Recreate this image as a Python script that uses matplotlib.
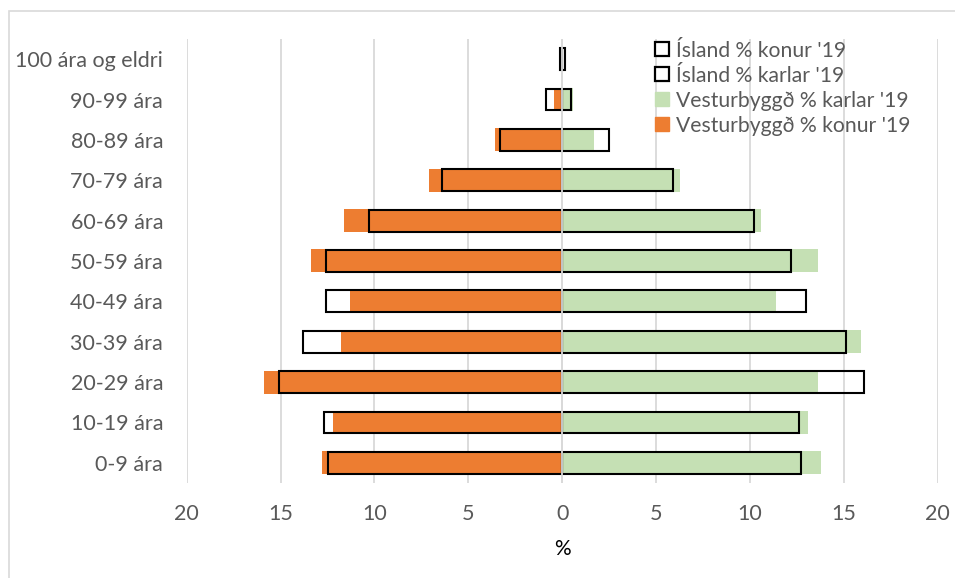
import matplotlib
matplotlib.use("Agg")
import matplotlib.pyplot as plt
from matplotlib.patches import Patch, Rectangle
import numpy as np

categories = ['0-9 ára', '10-19 ára', '20-29 ára', '30-39 ára', '40-49 ára',
              '50-59 ára', '60-69 ára', '70-79 ára', '80-89 ára', '90-99 ára',
              '100 ára og eldri']
vest_konur = [12.8, 12.2, 15.9, 11.8, 11.3, 13.4, 11.6, 7.1, 3.6, 0.45, 0.0]
vest_karlar = [13.8, 13.1, 13.6, 15.9, 11.4, 13.6, 10.6, 6.3, 1.7, 0.6, 0.0]
isl_konur = [12.5, 12.7, 15.1, 13.8, 12.6, 12.6, 10.3, 6.4, 3.3, 0.85, 0.13]
isl_karlar = [12.7, 12.6, 16.1, 15.1, 13.0, 12.2, 10.2, 5.9, 2.5, 0.45, 0.13]
xticks = [-20, -15, -10, -5, 0, 5, 10, 15, 20]

plt.rcParams['font.family'] = ['Lato', 'DejaVu Sans']
TXT = '#595959'
GREEN = '#C5E0B4'
ORANGE = '#ED7D31'
GRID = '#D9D9D9'

fig = plt.figure(figsize=(9.55, 5.78), dpi=100)
ax = fig.add_axes([0.1955, 0.1644, 0.7864, 0.7681])

y = np.arange(len(categories))
h = 0.57
ax.barh(y, -np.array(vest_konur), height=h, color=ORANGE, zorder=2)
ax.barh(y, vest_karlar, height=h, color=GREEN, zorder=2)
ax.barh(y, -np.array(isl_konur), height=h * 0.95, facecolor='none',
        edgecolor='black', linewidth=1.5, zorder=3)
ax.barh(y, isl_karlar, height=h * 0.95, facecolor='none',
        edgecolor='black', linewidth=1.5, zorder=3)
ax.axvline(0, color=GRID, linewidth=1.3, zorder=4)

ax.set_xlim(-20, 20)
ax.set_ylim(-0.5, len(categories) - 0.5)
ax.set_xticks(xticks)
ax.set_xticklabels([str(abs(t)) for t in xticks])
ax.set_yticks(y)
ax.set_yticklabels(categories)
ax.xaxis.grid(True, color=GRID, linewidth=1.3, zorder=0)
ax.set_axisbelow(True)
for s in ax.spines.values():
    s.set_visible(False)
ax.tick_params(axis='both', length=0, labelsize=15.5, colors=TXT)
ax.tick_params(axis='x', pad=15)
ax.tick_params(axis='y', pad=17)
ax.set_xlabel('%', fontsize=15, color='black', labelpad=11)

handles = [
    Patch(facecolor='white', edgecolor='black', linewidth=1.6, label="Ísland % konur '19"),
    Patch(facecolor='white', edgecolor='black', linewidth=1.6, label="Ísland % karlar '19"),
    Patch(facecolor=GREEN, edgecolor=GREEN, label="Vesturbyggð % karlar '19"),
    Patch(facecolor=ORANGE, edgecolor=ORANGE, label="Vesturbyggð % konur '19"),
]
leg = ax.legend(handles=handles, loc='upper left', bbox_to_anchor=(0.607, 1.025),
                frameon=False, fontsize=15.2, handlelength=0.65, handleheight=0.65,
                handletextpad=0.35, labelspacing=0.24, borderaxespad=0.2)
for t in leg.get_texts():
    t.set_color(TXT)

fig.patches.append(Rectangle((9 / 955, -0.01), 1.0, 1 - 11 / 578 + 0.01,
                             transform=fig.transFigure, fill=False,
                             edgecolor=GRID, linewidth=1.2))

fig.savefig('out.png', dpi=100, facecolor='white')
